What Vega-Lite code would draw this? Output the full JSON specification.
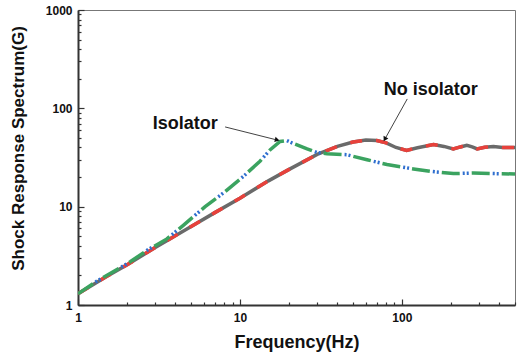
{
  "$schema": "https://vega.github.io/schema/vega-lite/v6.json",
  "width": 437,
  "height": 295,
  "autosize": {"type": "none"},
  "padding": {"left": 78, "top": 10, "right": 7, "bottom": 52},
  "background": "white",
  "config": {
    "view": {"stroke": "#777", "strokeWidth": 1},
    "font": "Liberation Sans"
  },
  "datasets": {
    "curves": [
      {"series": "No isolator", "f": 1, "g": 1.3},
      {"series": "No isolator", "f": 1.5, "g": 1.95},
      {"series": "No isolator", "f": 2, "g": 2.55},
      {"series": "No isolator", "f": 3, "g": 3.85},
      {"series": "No isolator", "f": 5, "g": 6.3},
      {"series": "No isolator", "f": 7, "g": 8.7},
      {"series": "No isolator", "f": 10, "g": 12.2},
      {"series": "No isolator", "f": 15, "g": 18.3},
      {"series": "No isolator", "f": 20, "g": 23.8},
      {"series": "No isolator", "f": 30, "g": 34},
      {"series": "No isolator", "f": 40, "g": 41},
      {"series": "No isolator", "f": 50, "g": 45.5},
      {"series": "No isolator", "f": 60, "g": 47.5},
      {"series": "No isolator", "f": 70, "g": 47},
      {"series": "No isolator", "f": 80, "g": 44.5},
      {"series": "No isolator", "f": 92, "g": 40},
      {"series": "No isolator", "f": 107, "g": 37.4},
      {"series": "No isolator", "f": 125, "g": 39.8},
      {"series": "No isolator", "f": 157, "g": 42.8},
      {"series": "No isolator", "f": 182, "g": 41},
      {"series": "No isolator", "f": 208, "g": 38.7},
      {"series": "No isolator", "f": 230, "g": 40.5},
      {"series": "No isolator", "f": 252, "g": 42},
      {"series": "No isolator", "f": 272, "g": 40.5},
      {"series": "No isolator", "f": 292, "g": 38.7},
      {"series": "No isolator", "f": 325, "g": 40.2},
      {"series": "No isolator", "f": 368, "g": 41},
      {"series": "No isolator", "f": 420, "g": 40},
      {"series": "No isolator", "f": 500, "g": 40},
      {"series": "Isolator", "f": 1, "g": 1.3},
      {"series": "Isolator", "f": 1.31, "g": 1.75},
      {"series": "Isolator", "f": 2.1, "g": 2.75},
      {"series": "Isolator", "f": 2.67, "g": 3.6},
      {"series": "Isolator", "f": 3.54, "g": 4.7},
      {"series": "Isolator", "f": 4.49, "g": 6.5},
      {"series": "Isolator", "f": 6.1, "g": 10},
      {"series": "Isolator", "f": 8, "g": 14},
      {"series": "Isolator", "f": 10.5, "g": 20.3},
      {"series": "Isolator", "f": 13.3, "g": 29},
      {"series": "Isolator", "f": 15.4, "g": 38},
      {"series": "Isolator", "f": 17.7, "g": 46},
      {"series": "Isolator", "f": 19.5, "g": 47},
      {"series": "Isolator", "f": 21.3, "g": 44},
      {"series": "Isolator", "f": 26, "g": 38.6},
      {"series": "Isolator", "f": 30, "g": 35.5},
      {"series": "Isolator", "f": 34.5, "g": 34.6},
      {"series": "Isolator", "f": 45.6, "g": 33.8},
      {"series": "Isolator", "f": 61, "g": 30},
      {"series": "Isolator", "f": 81, "g": 26.8},
      {"series": "Isolator", "f": 118, "g": 24.2},
      {"series": "Isolator", "f": 149, "g": 22.9},
      {"series": "Isolator", "f": 208, "g": 21.7},
      {"series": "Isolator", "f": 277, "g": 22},
      {"series": "Isolator", "f": 368, "g": 21.7},
      {"series": "Isolator", "f": 500, "g": 21.5}
    ],
    "notes": [
      {"label": "Isolator", "tf": 4.6, "tg": 70, "af": 8.1, "ag": 64.7, "bf": 17.0, "bg": 47.6},
      {"label": "No isolator", "tf": 151, "tg": 152, "af": 108, "ag": 124.6, "bf": 78.5, "bg": 48.5}
    ]
  },
  "layer": [
    {
      "data": {"name": "curves"},
      "transform": [{"filter": "datum.series === 'No isolator'"}],
      "mark": {"type": "line", "color": "#6a6a6a", "strokeWidth": 3.5, "clip": true},
      "encoding": {
        "x": {
          "field": "f", "type": "quantitative",
          "scale": {"type": "log", "domain": [1, 500], "nice": false},
          "title": "Frequency(Hz)",
          "axis": {
            "values": [1,2,3,4,5,6,7,8,9,10,20,30,40,50,60,70,80,90,100,200,300,400,500],
            "labelExpr": "indexof([1,10,100], datum.value) >= 0 ? format(datum.value, 'd') : ''",
            "labelOverlap": false,
            "labelFlush": false,
            "labelFont": "Liberation Sans",
            "labelFontWeight": "bold",
            "labelFontSize": 12,
            "labelColor": "#111",
            "labelPadding": 13,
            "tickSize": {"condition": {"test": "indexof([1,10,100], datum.value) >= 0", "value": -6}, "value": -3},
            "tickColor": "#333",
            "tickWidth": 1.2,
            "domainColor": "#333",
            "domainWidth": 2,
            "grid": false,
            "titleFont": "Liberation Sans",
            "titleFontWeight": "bold",
            "titleFontSize": 18,
            "titleColor": "#111",
            "titlePadding": 7
          }
        },
        "y": {
          "field": "g", "type": "quantitative",
          "scale": {"type": "log", "domain": [1, 1000], "nice": false},
          "title": "Shock Response Spectrum(G)",
          "axis": {
            "values": [1,2,3,4,5,6,7,8,9,10,20,30,40,50,60,70,80,90,100,200,300,400,500,600,700,800,900,1000],
            "labelExpr": "indexof([1,10,100,1000], datum.value) >= 0 ? format(datum.value, 'd') : ''",
            "labelOverlap": false,
            "labelFlush": false,
            "labelFont": "Liberation Sans",
            "labelFontWeight": "bold",
            "labelFontSize": 12,
            "labelColor": "#111",
            "labelPadding": 12,
            "tickSize": {"condition": {"test": "indexof([1,10,100,1000], datum.value) >= 0", "value": -6}, "value": -3},
            "tickColor": "#333",
            "tickWidth": 1.2,
            "domainColor": "#333",
            "domainWidth": 2,
            "grid": false,
            "titleFont": "Liberation Sans",
            "titleFontWeight": "bold",
            "titleFontSize": 17,
            "titleColor": "#111",
            "titlePadding": 18,
            "titleY": 138
          }
        }
      }
    },
    {
      "data": {"name": "curves"},
      "transform": [{"filter": "datum.series === 'No isolator'"}],
      "mark": {"type": "line", "color": "#e8413b", "strokeWidth": 3.5, "strokeDash": [12, 14], "clip": true},
      "encoding": {
        "x": {"field": "f", "type": "quantitative"},
        "y": {"field": "g", "type": "quantitative"}
      }
    },
    {
      "data": {"name": "curves"},
      "transform": [{"filter": "datum.series === 'Isolator'"}],
      "mark": {"type": "line", "color": "#3ba360", "strokeWidth": 3.5, "strokeDash": [18, 12], "clip": true},
      "encoding": {
        "x": {"field": "f", "type": "quantitative"},
        "y": {"field": "g", "type": "quantitative"}
      }
    },
    {
      "data": {"name": "curves"},
      "transform": [{"filter": "datum.series === 'Isolator'"}],
      "mark": {"type": "line", "color": "#2f6fcf", "strokeWidth": 3.5, "strokeDash": [2, 2, 2, 24], "strokeDashOffset": 9, "clip": true},
      "encoding": {
        "x": {"field": "f", "type": "quantitative"},
        "y": {"field": "g", "type": "quantitative"}
      }
    },
    {
      "mark": {"type": "rule", "color": "#222", "strokeWidth": 3},
      "encoding": {"x": {"datum": 500, "type": "quantitative"}}
    },
    {
      "data": {"name": "notes"},
      "mark": {"type": "text", "font": "Liberation Sans", "fontWeight": "bold", "fontSize": 18, "color": "#111", "align": "center", "baseline": "middle"},
      "encoding": {
        "x": {"field": "tf", "type": "quantitative"},
        "y": {"field": "tg", "type": "quantitative"},
        "text": {"field": "label"}
      }
    },
    {
      "data": {"name": "notes"},
      "mark": {"type": "rule", "color": "#111", "strokeWidth": 0.8},
      "encoding": {
        "x": {"field": "af", "type": "quantitative"},
        "y": {"field": "ag", "type": "quantitative"},
        "x2": {"field": "bf"},
        "y2": {"field": "bg"}
      }
    },
    {
      "data": {"name": "notes"},
      "transform": [{"filter": "datum.label === 'Isolator'"}],
      "mark": {"type": "point", "shape": "triangle-right", "filled": true, "color": "#111", "size": 30, "angle": 14, "opacity": 1},
      "encoding": {
        "x": {"field": "bf", "type": "quantitative"},
        "y": {"field": "bg", "type": "quantitative"}
      }
    },
    {
      "data": {"name": "notes"},
      "transform": [{"filter": "datum.label === 'No isolator'"}],
      "mark": {"type": "point", "shape": "triangle-right", "filled": true, "color": "#111", "size": 30, "angle": 119, "opacity": 1},
      "encoding": {
        "x": {"field": "bf", "type": "quantitative"},
        "y": {"field": "bg", "type": "quantitative"}
      }
    }
  ]
}
